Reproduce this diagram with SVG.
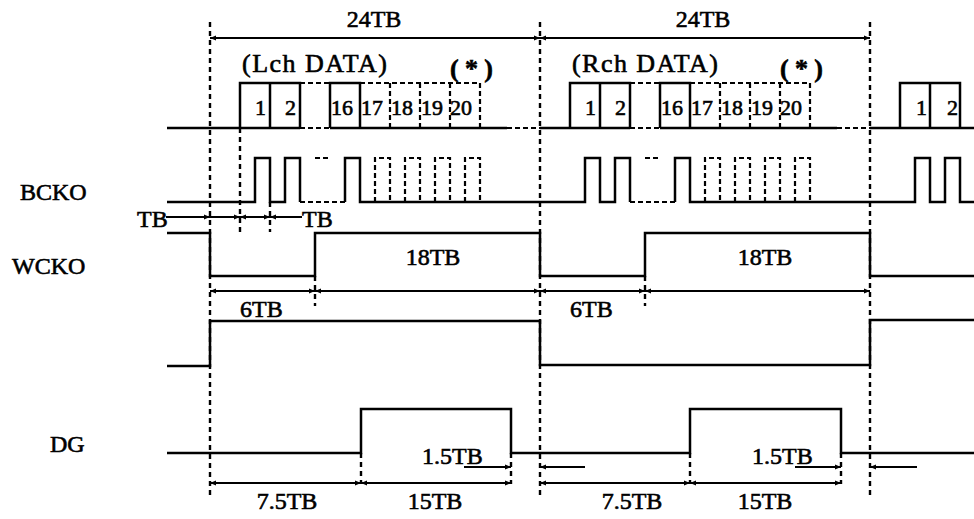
<svg xmlns="http://www.w3.org/2000/svg" width="974" height="519" viewBox="0 0 974 519">
<defs>
<style>
.sig{fill:none;stroke:#000;stroke-width:2.5;stroke-linejoin:miter}
.sigd{fill:none;stroke:#000;stroke-width:2.2;stroke-dasharray:5 3}
.grid{fill:none;stroke:#000;stroke-width:2.4;stroke-dasharray:5 4}
.dim{fill:none;stroke:#000;stroke-width:2}
.both{marker-start:url(#ah);marker-end:url(#ah)}
.end{marker-end:url(#ah)}
.start{marker-start:url(#ah)}
text{font-family:"Liberation Serif","Times New Roman",serif;font-size:24px;fill:#000;stroke:#000;stroke-width:0.6}
.num{font-size:22px}
.hd{font-size:26px}
.ast{font-size:26px;font-weight:bold}
</style>
<marker id="ah" viewBox="0 0 10 10" refX="10" refY="5" markerWidth="9" markerHeight="6" markerUnits="userSpaceOnUse" orient="auto-start-reverse">
<path d="M0,1 L10,5 L0,9 z" fill="#000"/>
</marker>
</defs>
<rect width="974" height="519" fill="#fff"/>

<g id="labels">
<text x="20" y="200">BCKO</text>
<text x="12" y="274">WCKO</text>
<text x="50" y="452">DG</text>
</g>

<g id="period-lines">
<path class="grid" d="M210 22 V498 M540 22 V498 M870 22 V498"/>
<path class="grid" d="M240 128 V232 M270 202 V232 M315 276 V306 M645 276 V306"/>
<path class="grid" d="M361 453 V484 M511 453 V484 M690 453 V484 M841 453 V484"/>
</g>

<g id="frame-dimension">
<path class="dim both" d="M210 38 H540"/>
<path class="dim both" d="M540 38 H870"/>
<text x="374" y="27" text-anchor="middle">24TB</text>
<text x="703" y="27" text-anchor="middle">24TB</text>
</g>

<g id="data">
<text x="242" y="72" class="hd" textLength="145">(Lch DATA)</text>
<text x="450" y="77" class="ast" textLength="43">(*)</text>
<text x="572" y="72" class="hd" textLength="146">(Rch DATA)</text>
<text x="780" y="77" class="ast" textLength="43">(*)</text>
<path class="sig" d="M167 128 H300 M330 128 H507 M540 128 H630 M660 128 H837 M870 128 H974"/>
<path class="sigd" d="M300 128 H330 M507 128 H540 M630 128 H660 M837 128 H870"/>
<path class="sig" d="M240 128 V83 H300 V128 M270 83 V128 M330 128 V83 H360 V128"/>
<path class="sigd" d="M300 83 H330 M360 83 H480 V128 M390 83 V128 M420 83 V128 M450 83 V128"/>
<path class="sig" d="M570 128 V83 H630 V128 M600 83 V128 M660 128 V83 H690 V128"/>
<path class="sigd" d="M630 83 H660 M690 83 H810 V128 M720 83 V128 M750 83 V128 M780 83 V128"/>
<path class="sig" d="M900 128 V83 H960 V128 M930 83 V128"/>
<text x="266" y="115" text-anchor="end" class="num">1</text>
<text x="296" y="115" text-anchor="end" class="num">2</text>
<text x="331" y="115" class="num">16</text>
<text x="361" y="115" class="num">17</text>
<text x="391" y="115" class="num">18</text>
<text x="421" y="115" class="num">19</text>
<text x="450" y="115" class="num">20</text>
<text x="596" y="115" text-anchor="end" class="num">1</text>
<text x="626" y="115" text-anchor="end" class="num">2</text>
<text x="661" y="115" class="num">16</text>
<text x="691" y="115" class="num">17</text>
<text x="721" y="115" class="num">18</text>
<text x="751" y="115" class="num">19</text>
<text x="780" y="115" class="num">20</text>
<text x="927" y="115" text-anchor="end" class="num">1</text>
<text x="958" y="115" text-anchor="end" class="num">2</text>
</g>

<g id="BCKO">
<path class="sig" d="M167 202 H255 V158 H270 V202 H285 V158 H300 V202 M345 202 V158 H360 V202 H585 V158 H600 V202 H615 V158 H630 V202 M675 202 V158 H690 V202 H915 V158 H930 V202 H945 V158 H960 V202 H974"/>
<path class="sigd" d="M300 202 H345 M315 158 H328 M375 202 V158 H390 V202 M405 202 V158 H420 V202 M435 202 V158 H450 V202 M465 202 V158 H480 V202"/>
<path class="sigd" d="M630 202 H675 M645 158 H658 M705 202 V158 H720 V202 M735 202 V158 H750 V202 M765 202 V158 H780 V202 M795 202 V158 H810 V202"/>
</g>

<g id="TB-marks">
<path class="dim end" d="M166 217 H210"/>
<path class="dim end" d="M210 217 H240"/>
<path class="dim both" d="M240 217 H270"/>
<path class="dim start" d="M270 217 H302"/>
<text x="137" y="227">TB</text>
<text x="302" y="227">TB</text>
</g>

<g id="WCKO">
<path class="sig" d="M167 233 H210 V276 H315 V233 H540 V276 H645 V233 H870 V276 H974"/>
<text x="433" y="265" text-anchor="middle">18TB</text>
<text x="765" y="265" text-anchor="middle">18TB</text>
<path class="dim both" d="M210 291 H315"/>
<path class="dim both" d="M315 291 H540"/>
<path class="dim both" d="M540 291 H645"/>
<path class="dim both" d="M645 291 H870"/>
<text x="240" y="317">6TB</text>
<text x="570" y="317">6TB</text>
</g>

<g id="LRCK">
<path class="sig" d="M167 366 H210 V321 H540 V365 H870 V320 H974"/>
</g>

<g id="DG">
<path class="sig" d="M167 453 H361 V409 H511 V453 H690 V409 H841 V453 H974"/>
<text x="422" y="464">1.5TB</text>
<text x="752" y="464">1.5TB</text>
<path class="dim end" d="M464 467 H511"/>
<path class="dim start" d="M540 467 H585"/>
<path class="dim end" d="M795 467 H841"/>
<path class="dim start" d="M870 467 H917"/>
<path class="dim both" d="M210 483 H361"/>
<path class="dim both" d="M361 483 H511"/>
<path class="dim both" d="M540 483 H690"/>
<path class="dim both" d="M690 483 H841"/>
<text x="287" y="509" text-anchor="middle">7.5TB</text>
<text x="435" y="509" text-anchor="middle">15TB</text>
<text x="632" y="509" text-anchor="middle">7.5TB</text>
<text x="765" y="509" text-anchor="middle">15TB</text>
</g>
</svg>
